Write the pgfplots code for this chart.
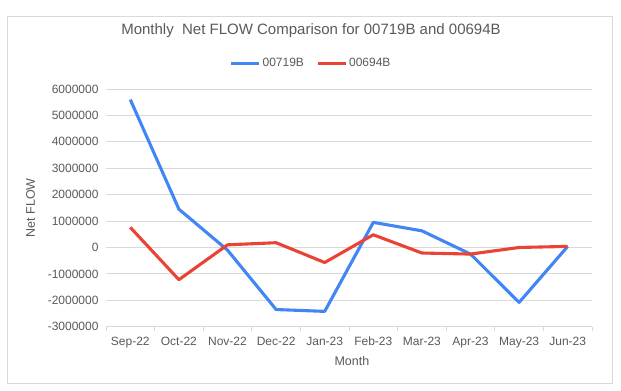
\documentclass[border=0pt]{standalone}
\usepackage{pgfplots}
\pgfplotsset{compat=1.18}
\usepackage{fontspec}
\setmainfont{Liberation Sans}
\definecolor{cblue}{HTML}{4285F4}
\definecolor{cred}{HTML}{EA4335}
\definecolor{ctext}{HTML}{595959}
\definecolor{cgrid}{HTML}{D9D9D9}
\begin{document}
\begin{tikzpicture}
\path[use as bounding box] (-106bp,-64.3bp) rectangle (515bp,326.7bp);
\draw[cgrid, line width=1bp] (-98.5bp,-56.8bp) rectangle (506bp,309.7bp);
\begin{axis}[
  anchor=south west,
  scale only axis, width=486bp, height=237.7bp,
  xmin=-0.5, xmax=9.5, ymin=-3000000, ymax=6000000,
  xtick={0,...,9},
  xticklabels={Sep-22,Oct-22,Nov-22,Dec-22,Jan-23,Feb-23,Mar-23,Apr-23,May-23,Jun-23},
  ytick={-3000000,-2000000,...,6000000},
  scaled y ticks=false,
  /pgf/number format/assume math mode=true,
  yticklabel style={/pgf/number format/fixed, /pgf/number format/1000 sep={}, xshift=-4bp},
  xticklabel style={yshift=-7bp},
  tick label style={font=\fontsize{12bp}{14bp}\selectfont, text=ctext},
  axis x line*=bottom, axis y line*=left,
  x axis line style={cgrid, line width=1bp, -},
  y axis line style={draw=none},
  major tick style={draw=none},
  ymajorgrids, grid style={cgrid, line width=0.9bp},
  extra x ticks={-0.5,0.5,...,9.5},
  extra x tick labels={},
  extra x tick style={grid=none, tick align=outside, major tick length=4bp, major tick style={draw=cgrid, line width=0.9bp}},
  xlabel={Month}, ylabel={Net FLOW},
  label style={font=\fontsize{12.5bp}{14bp}\selectfont, text=ctext},
  xlabel style={at={(axis description cs:0.506,-0.145)}, anchor=center},
  ylabel style={at={(axis description cs:-0.155,0.5)}, anchor=center},
  title={Monthly\ \ Net FLOW Comparison for 00719B and 00694B},
  title style={at={(axis description cs:0.4218,1.219)}, anchor=center, font=\fontsize{15bp}{17bp}\selectfont, text=ctext},
  legend style={at={(axis description cs:0.4218,1.109)}, anchor=center, draw=none, fill=none, legend columns=2,
    font=\fontsize{12bp}{14bp}\selectfont, text=ctext,
    /tikz/every even column/.append style={column sep=10bp}},
  legend image code/.code={\draw[#1] (0bp,0bp) -- (28bp,0bp);},
  clip=false,
]
\addplot[cblue, line width=3.1bp, line join=round] coordinates {
(0,5600000) (1,1450000) (2,-100000) (3,-2350000) (4,-2420000)
(5,950000) (6,630000) (7,-250000) (8,-2080000) (9,40000)};
\addlegendentry{00719B}
\addplot[cred, line width=3.1bp, line join=round] coordinates {
(0,760000) (1,-1220000) (2,100000) (3,180000) (4,-570000)
(5,480000) (6,-210000) (7,-250000) (8,0) (9,40000)};
\addlegendentry{00694B}
\end{axis}
\end{tikzpicture}
\end{document}
